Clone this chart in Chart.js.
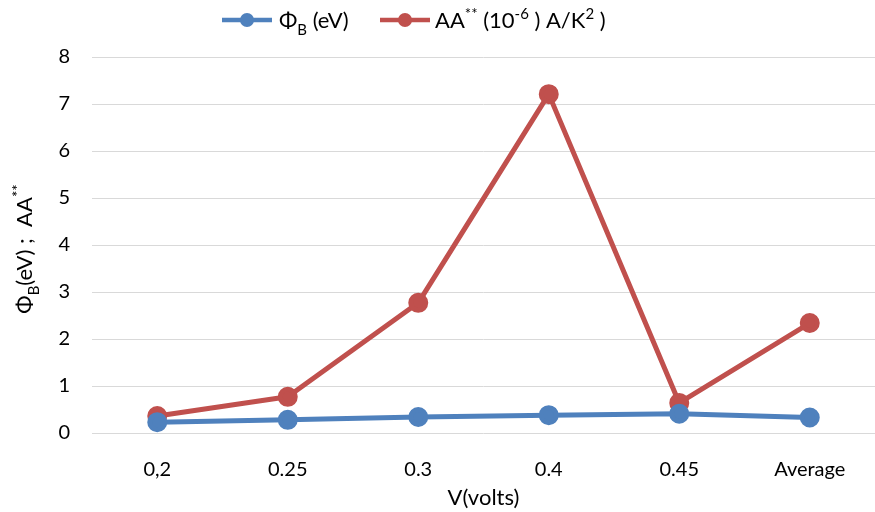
<!DOCTYPE html>
<html>
<head>
<meta charset="utf-8">
<script src="https://cdn.jsdelivr.net/npm/chart.js@4/dist/chart.umd.min.js"></script>
<style>
html,body{margin:0;padding:0;background:#fff;}
#wrap{width:875px;height:512px;position:relative;}
</style>
</head>
<body>
<div id="wrap"><canvas id="c" width="875" height="512"></canvas></div>
<script>
const categories = ['0,2', '0.25', '0.3', '0.4', '0.45', 'Average'];
const phiB = [0.23, 0.28, 0.34, 0.38, 0.41, 0.33];
const aa = [0.36, 0.77, 2.77, 7.21, 0.64, 2.34];
const yTicks = [0, 1, 2, 3, 4, 5, 6, 7, 8];

const BLUE = '#4f81bd';
const RED = '#c0504d';
const FONT = 'Lato, "Open Sans", sans-serif';

function drawRich(ctx, parts, x, y, size) {
  let cx = x;
  for (const [t, k] of parts) {
    const s = k === 'n' ? size : Math.round(size * 0.7);
    ctx.font = s + 'px ' + FONT;
    const dy = k === 'sub' ? size * 0.3 : (k === 'sup' ? -size * 0.42 : 0);
    ctx.fillText(t, cx, y + dy);
    cx += ctx.measureText(t).width;
  }
  return cx - x;
}
function richWidth(ctx, parts, size) {
  let w = 0;
  for (const [t, k] of parts) {
    const s = k === 'n' ? size : Math.round(size * 0.7);
    ctx.font = s + 'px ' + FONT;
    w += ctx.measureText(t).width;
  }
  return w;
}

const decor = {
  id: 'decor',
  afterDraw(chart) {
    const ctx = chart.ctx;
    ctx.save();
    ctx.fillStyle = '#000';
    ctx.textBaseline = 'alphabetic';
    const ly = 20;
    [[222, 272, BLUE], [380, 430, RED]].forEach(([a, b, col]) => {
      ctx.strokeStyle = col; ctx.lineWidth = 4.5;
      ctx.beginPath(); ctx.moveTo(a, ly); ctx.lineTo(b, ly); ctx.stroke();
      ctx.fillStyle = col;
      ctx.beginPath(); ctx.arc((a + b) / 2, ly, 7, 0, Math.PI * 2); ctx.fill();
    });
    ctx.fillStyle = '#000';
    drawRich(ctx, [['Φ', 'n'], ['B', 'sub'], [' (eV)', 'n']], 279, 28, 22);
    drawRich(ctx, [['AA', 'n'], ['**', 'sup'], [' (10', 'n'], ['-6', 'sup'], [' ) A/K', 'n'], ['2', 'sup'], [' )', 'n']], 435, 28, 22);
    const yparts = [['Φ', 'n'], ['B', 'sub'], ['(eV) ;  AA', 'n'], ['**', 'sup']];
    const w = richWidth(ctx, yparts, 22);
    ctx.translate(32, 249);
    ctx.rotate(-Math.PI / 2);
    drawRich(ctx, yparts, -w / 2, 0, 22);
    ctx.restore();
    ctx.save();
    ctx.fillStyle = '#000';
    ctx.font = '22px ' + FONT;
    ctx.textAlign = 'center';
    ctx.textBaseline = 'alphabetic';
    const ca = chart.chartArea;
    ctx.fillText('V(volts)', (ca.left + ca.right) / 2, 505);
    ctx.restore();
  }
};

new Chart(document.getElementById('c'), {
  type: 'line',
  data: {
    labels: categories,
    datasets: [
      { label: 'ΦB (eV)', data: phiB, borderColor: BLUE, backgroundColor: BLUE,
        borderWidth: 5, pointRadius: 7.5, pointHoverRadius: 7.5, tension: 0, borderJoinStyle: 'round' },
      { label: 'AA** (10-6 ) A/K2 )', data: aa, borderColor: RED, backgroundColor: RED,
        borderWidth: 5, pointRadius: 7.5, pointHoverRadius: 7.5, tension: 0, borderJoinStyle: 'round' }
    ]
  },
  options: {
    responsive: false,
    animation: false,
    layout: { autoPadding: false, padding: { top: 57, right: 0, left: 0, bottom: 0 } },
    plugins: { legend: { display: false }, tooltip: { enabled: false } },
    scales: {
      x: {
        offset: true,
        grid: { display: false, drawTicks: false },
        border: { display: false },
        ticks: { color: '#000', font: { size: 20, family: FONT }, padding: 25, maxRotation: 0 },
        afterFit(s) { s.height = 79; s.paddingLeft = 0; s.paddingRight = 0; }
      },
      y: {
        min: 0, max: 8,
        afterBuildTicks(s) { s.ticks = yTicks.map(v => ({ value: v })); },
        grid: { color: '#d9d9d9', lineWidth: 1, drawTicks: false },
        border: { display: false },
        ticks: { color: '#000', font: { size: 20, family: FONT }, padding: 22 },
        afterFit(s) { s.width = 92; s.paddingTop = 0; s.paddingBottom = 0; }
      }
    }
  },
  plugins: [decor]
});
</script>
</body>
</html>
